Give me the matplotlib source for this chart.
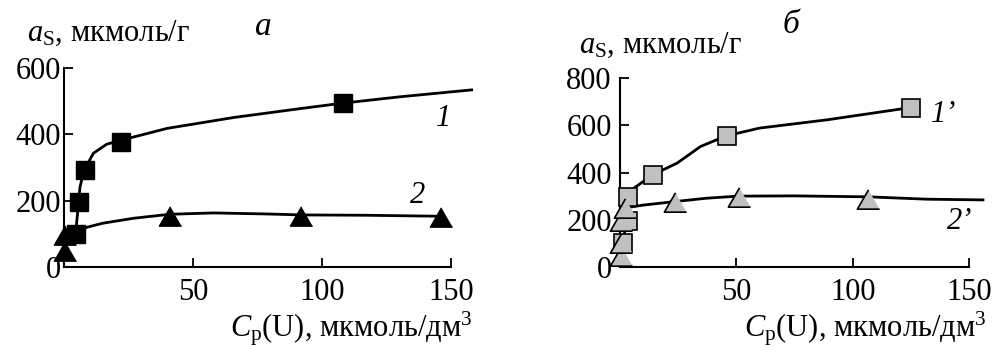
import matplotlib
matplotlib.use("Agg")
import matplotlib.pyplot as plt

plt.rcParams['font.family'] = ['Liberation Serif', 'DejaVu Serif']
plt.rcParams['mathtext.fontset'] = 'custom'
plt.rcParams['mathtext.rm'] = 'Liberation Serif'
plt.rcParams['mathtext.it'] = 'Liberation Serif:italic'

# panel a: measured points
sq_a_x = [4.5, 6, 8, 22, 108]
sq_a_y = [98, 196, 292, 378, 494]
tri_a_x = [0.3, 0.5, 41, 92, 146]
tri_a_y = [48, 95, 155, 155, 150]
# panel a: fitted curves
fit1_a_x = [4.5, 6.2, 7.8, 11.4, 16.5, 22, 40, 66, 92, 108, 130, 158]
fit1_a_y = [100, 241, 292, 343, 370, 382, 418, 451, 478, 494, 513, 534]
fit2_a_x = [5, 15, 27, 41, 58, 78, 92, 117, 146]
fit2_a_y = [112, 132, 147, 159, 163, 160, 157, 156, 153]

# panel б: measured points
sq_b_x = [1.5, 3.5, 3.5, 14, 46, 125]
sq_b_y = [100, 195, 298, 388, 555, 675]
tri_b_x = [0.5, 0.5, 0.5, 2, 23.5, 51, 106.5]
tri_b_y = [45, 100, 195, 248, 275, 298, 287]
# panel б: fitted curves
fit1_b_x = [1.5, 2.5, 3.5, 6, 14, 24.6, 34.6, 45.6, 60, 89, 125]
fit1_b_y = [100, 200, 298, 334, 390, 440, 510, 555, 588, 623, 675]
fit2_b_x = [2, 10, 23.6, 37, 50.8, 75, 106.6, 132, 156]
fit2_b_y = [250, 262, 277, 291, 300, 301, 297, 287, 284]

x_ticks = [50, 100, 150]
y_ticks_a = [0, 200, 400, 600]
y_ticks_b = [0, 200, 400, 600, 800]

ylabel = r"$\mathit{a}_{\mathrm{S}}$, мкмоль/г"
xlabel = r"$\mathit{C}_{\mathrm{p}}$(U), мкмоль/дм$^{3}$"

tri = [(0, 0.87), (-1, -0.87), (1, -0.87)]

W, H = 994, 347
fig = plt.figure(figsize=(W / 100, H / 100), dpi=100)


def make_axes(left, right, top, ymax, yticks, ypad):
    ax = fig.add_axes([left / W, 1 - 267 / H, (right - left) / W, (267 - top) / H])
    ax.set_xlim(0, 150)
    ax.set_ylim(0, ymax)
    ax.spines['top'].set_visible(False)
    ax.spines['right'].set_visible(False)
    for s in ('left', 'bottom'):
        ax.spines[s].set_linewidth(1.5)
    ax.set_xticks(x_ticks)
    ax.set_yticks(yticks)
    ax.tick_params(direction='in', length=6.5, width=1.3, labelsize=22)
    ax.tick_params(axis='x', pad=8)
    ax.tick_params(axis='y', pad=ypad)
    ax.patch.set_visible(False)
    return ax


ax1 = make_axes(64, 451, 68, 600, y_ticks_a, 2)
ax1.plot(fit1_a_x, fit1_a_y, color='black', lw=2, clip_on=False, zorder=2)
ax1.plot(fit2_a_x, fit2_a_y, color='black', lw=2, clip_on=False, zorder=2)
ax1.plot(tri_a_x, tri_a_y, ls='none', marker=tri, ms=16, color='black', clip_on=False, zorder=3)
ax1.plot(sq_a_x, sq_a_y, ls='none', marker='s', ms=13, color='black', clip_on=False, zorder=4)
ax1.text(147, 449, '1', fontsize=22, style='italic', ha='center', va='center')
ax1.text(137, 217, '2', fontsize=22, style='italic', ha='center', va='center')

ax2 = make_axes(620, 969, 78, 800, y_ticks_b, 6)
ax2.plot(fit1_b_x, fit1_b_y, color='black', lw=2, clip_on=False, zorder=2)
ax2.plot(fit2_b_x, fit2_b_y, color='black', lw=2, clip_on=False, zorder=2)
ax2.plot(sq_b_x, sq_b_y, ls='none', marker='s', ms=13, mfc='#c0c0c0', mec='black',
         mew=1.2, clip_on=False, zorder=3)
ax2.plot(tri_b_x, tri_b_y, ls='none', marker=tri, ms=16, mfc='#c0c0c0', mec='black',
         mew=1.2, clip_on=False, zorder=4)
ax2.text(139, 644, '1’', fontsize=22, style='italic', ha='center', va='center')
ax2.text(146, 191, '2’', fontsize=22, style='italic', ha='center', va='center')

# axis titles and panel letters
fig.text(27 / W, 1 - 33 / H, ylabel, fontsize=22, ha='left', va='center')
fig.text(579 / W, 1 - 45 / H, ylabel, fontsize=22, ha='left', va='center')
fig.text(472 / W, 1 - 329 / H, xlabel, fontsize=22, ha='right', va='center')
fig.text(986 / W, 1 - 329 / H, xlabel, fontsize=22, ha='right', va='center')
fig.text(263 / W, 1 - 27 / H, 'а', fontsize=24, style='italic', ha='center', va='center')
fig.text(791 / W, 1 - 25 / H, 'б', fontsize=24, style='italic', ha='center', va='center')

fig.savefig('out.png', dpi=100)
